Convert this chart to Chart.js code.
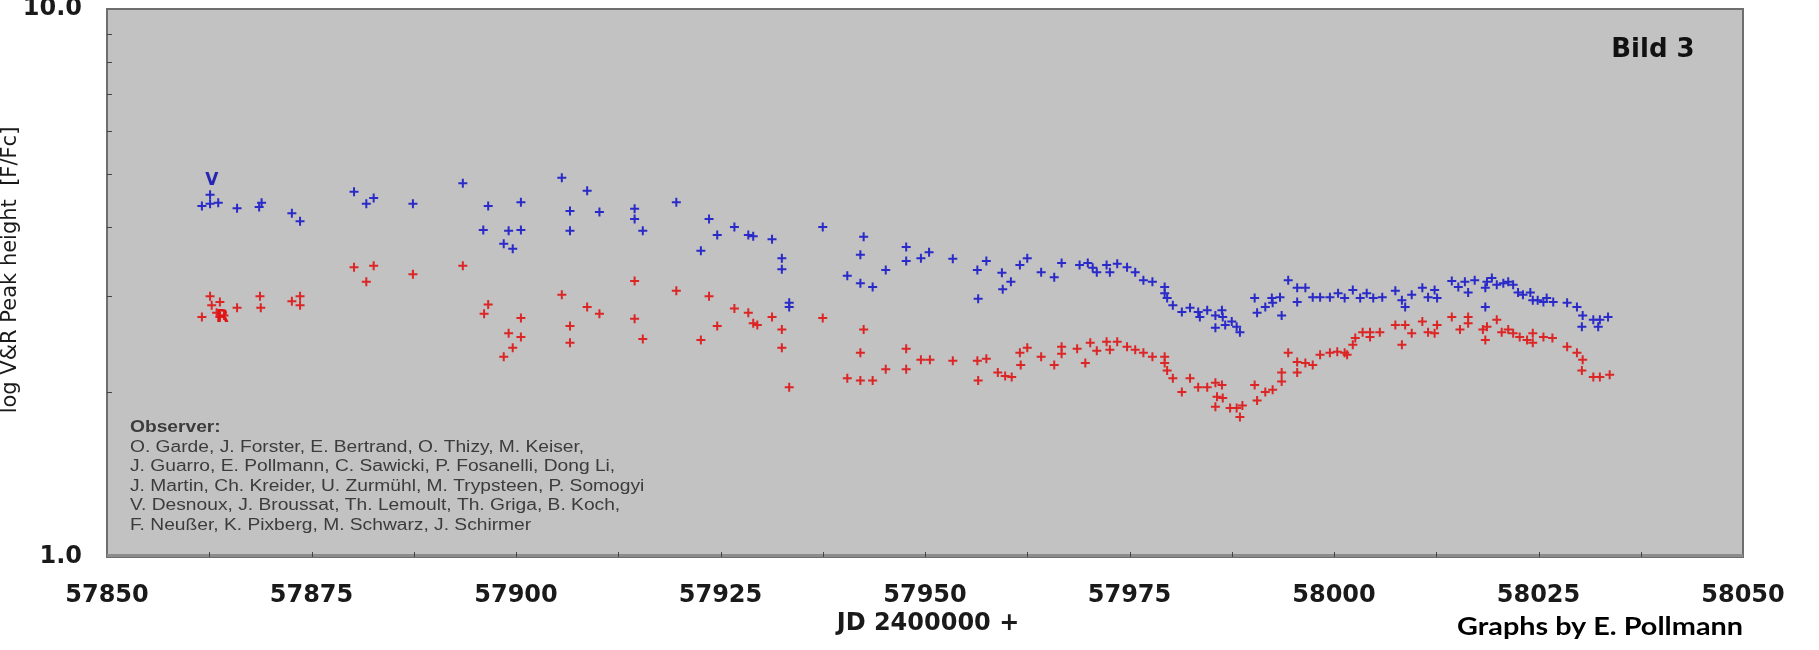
<!DOCTYPE html>
<html>
<head>
<meta charset="utf-8">
<title>Bild 3</title>
<script src="https://cdn.jsdelivr.net/npm/chart.js@4.4.1/dist/chart.umd.min.js"></script>
<style>
  html, body { margin: 0; padding: 0; background: #fff; }
  #wrap { width: 1819px; height: 650px; position: relative; }
</style>
</head>
<body>
<div id="wrap"><canvas id="chart" width="1819" height="650"></canvas></div>
<script>
// V peak height (blue)
const blueJD = [
  57861.6, 57862.6, 57862.6, 57863.6, 57865.9, 57868.6, 57868.9, 57872.6, 57873.6, 57880.2,
  57881.7, 57882.6, 57887.4, 57893.5, 57896.6, 57900.6, 57896.0, 57899.1, 57900.6, 57898.5,
  57899.6, 57905.6, 57906.6, 57906.6, 57908.7, 57910.2, 57914.5, 57914.5, 57915.5, 57919.6,
  57923.6, 57924.6, 57922.6, 57926.7, 57928.4, 57929.0, 57931.3, 57932.5, 57932.5, 57933.4,
  57933.4, 57937.5, 57942.5, 57942.1, 57940.5, 57942.1, 57943.6, 57947.7, 57947.7, 57949.5,
  57950.5, 57945.2, 57953.4, 57957.5, 57956.4, 57959.4, 57960.5, 57959.5, 57956.5, 57961.6,
  57962.5, 57964.2, 57965.8, 57966.7, 57968.9, 57969.9, 57970.5, 57971.0, 57972.2, 57972.6,
  57973.5, 57974.7, 57975.7, 57976.7, 57977.8, 57979.3, 57979.3, 57979.6, 57980.3, 57981.4,
  57982.4, 57983.4, 57983.6, 57984.5, 57985.5, 57986.3, 57986.4, 57985.5, 57986.7, 57987.5,
  57988.1, 57988.5, 57990.3, 57990.6, 57991.6, 57992.5, 57992.4, 57993.4, 57993.6, 57994.4,
  57995.5, 57995.5, 57996.5, 57997.4, 57998.3, 57999.5, 58000.5, 58001.3, 58002.3, 58003.2,
  58004.0, 58004.8, 58005.9, 58007.5, 58008.3, 58008.7, 58009.5, 58010.8, 58011.5, 58012.3,
  58012.6, 58014.4, 58015.2, 58016.0, 58016.4, 58017.2, 58018.5, 58018.7, 58019.3, 58019.9,
  58020.7, 58021.3, 58021.9, 58022.5, 58023.1, 58024.0, 58024.3, 58024.9, 58025.6, 58026.0,
  58026.8, 58018.5, 58028.5, 58029.7, 58030.4, 58030.3, 58031.7, 58032.3, 58032.5, 58033.5
];
const blueVal = [
  4.37, 4.58, 4.41, 4.43, 4.33, 4.35, 4.43, 4.24, 4.10, 4.64,
  4.41, 4.52, 4.41, 4.81, 4.37, 4.44, 3.95, 3.94, 3.95, 3.73,
  3.65, 4.92, 4.28, 3.94, 4.66, 4.26, 4.32, 4.14, 3.94, 4.44,
  4.14, 3.87, 3.62, 4.00, 3.87, 3.85, 3.80, 3.51, 3.35, 2.91,
  2.86, 4.00, 3.84, 3.56, 3.26, 3.16, 3.11, 3.68, 3.47, 3.51,
  3.60, 3.34, 3.50, 3.47, 3.34, 3.30, 3.18, 3.08, 2.96, 3.41,
  3.51, 3.31, 3.24, 3.44, 3.41, 3.44, 3.37, 3.31, 3.41, 3.31,
  3.43, 3.38, 3.31, 3.20, 3.18, 3.11, 3.03, 2.97, 2.88, 2.80,
  2.85, 2.80, 2.74, 2.82, 2.76, 2.82, 2.74, 2.62, 2.65, 2.69,
  2.63, 2.57, 2.97, 2.79, 2.86, 2.91, 2.97, 2.98, 2.76, 3.20,
  3.10, 2.92, 3.10, 2.98, 2.98, 2.98, 3.03, 2.97, 3.07, 2.97,
  3.03, 2.97, 2.98, 3.06, 2.94, 2.86, 3.01, 3.10, 2.98, 3.07,
  2.97, 3.19, 3.11, 3.18, 3.04, 3.20, 3.10, 3.18, 3.23, 3.14,
  3.16, 3.18, 3.14, 3.04, 3.01, 3.04, 2.94, 2.94, 2.92, 2.97,
  2.92, 2.86, 2.91, 2.86, 2.76, 2.63, 2.71, 2.63, 2.71, 2.74
];

// R peak height (red)
const redJD = [
  57862.6, 57863.8, 57861.6, 57862.8, 57863.4, 57864.3, 57863.8, 57865.9, 57868.7, 57868.8,
  57872.6, 57873.6, 57873.6, 57880.2, 57882.6, 57881.7, 57887.4, 57893.5, 57896.6, 57896.1,
  57900.6, 57899.1, 57900.6, 57899.6, 57898.5, 57905.6, 57908.7, 57906.6, 57906.6, 57910.2,
  57914.5, 57914.5, 57915.5, 57919.6, 57923.6, 57924.6, 57922.6, 57926.7, 57928.4, 57929.0,
  57929.5, 57931.3, 57932.5, 57932.5, 57933.4, 57937.5, 57942.5, 57942.1, 57940.5, 57942.1,
  57943.6, 57947.7, 57947.7, 57945.2, 57949.5, 57950.6, 57953.4, 57956.4, 57957.5, 57956.5,
  57958.9, 57959.8, 57960.6, 57961.6, 57962.5, 57961.7, 57964.2, 57965.8, 57966.7, 57966.7,
  57968.6, 57969.6, 57970.2, 57971.0, 57972.2, 57972.6, 57973.5, 57974.7, 57975.7, 57976.7,
  57977.8, 57979.3, 57979.3, 57979.6, 57980.3, 57981.4, 57982.4, 57983.4, 57984.5, 57985.5,
  57986.3, 57985.7, 57986.4, 57985.5, 57987.3, 57988.1, 57988.5, 57988.8, 57990.3, 57990.6,
  57991.6, 57992.5, 57993.6, 57993.6, 57994.4, 57995.5, 57995.5, 57996.5, 57997.4, 57998.3,
  57999.5, 58000.4, 58001.3, 58001.6, 58002.3, 58002.6, 58003.5, 58004.4, 58005.6, 58004.4,
  58007.5, 58008.3, 58008.7, 58009.5, 58010.8, 58011.5, 58012.6, 58012.3, 58014.4, 58015.4,
  58016.4, 58016.4, 58018.2, 58018.5, 58018.7, 58019.9, 58020.5, 58021.3, 58021.9, 58022.7,
  58023.6, 58024.3, 58024.3, 58025.6, 58026.7, 58028.5, 58029.7, 58030.4, 58030.3, 58031.7,
  58032.5, 58033.7
];
const redVal = [
  2.99, 2.92, 2.74, 2.88, 2.79, 2.76, 2.74, 2.85, 2.99, 2.85,
  2.93, 2.99, 2.88, 3.38, 3.40, 3.18, 3.28, 3.40, 2.89, 2.78,
  2.73, 2.56, 2.52, 2.41, 2.32, 3.01, 2.86, 2.64, 2.46, 2.78,
  3.19, 2.72, 2.50, 3.06, 2.99, 2.64, 2.49, 2.84, 2.79, 2.67,
  2.65, 2.74, 2.60, 2.41, 2.04, 2.73, 2.60, 2.36, 2.12, 2.10,
  2.10, 2.40, 2.20, 2.20, 2.29, 2.29, 2.28, 2.28, 2.30, 2.10,
  2.17, 2.14, 2.13, 2.36, 2.41, 2.24, 2.32, 2.24, 2.42, 2.35,
  2.40, 2.26, 2.46, 2.38, 2.47, 2.39, 2.47, 2.42, 2.39, 2.36,
  2.32, 2.32, 2.26, 2.19, 2.12, 2.00, 2.12, 2.04, 2.04, 2.08,
  2.06, 1.96, 1.95, 1.88, 1.87, 1.87, 1.80, 1.89, 2.06, 1.93,
  2.00, 2.02, 2.09, 2.17, 2.36, 2.27, 2.17, 2.26, 2.24, 2.34,
  2.36, 2.37, 2.36, 2.34, 2.44, 2.51, 2.57, 2.57, 2.57, 2.52,
  2.65, 2.44, 2.65, 2.56, 2.69, 2.57, 2.65, 2.56, 2.74, 2.60,
  2.74, 2.67, 2.60, 2.49, 2.63, 2.71, 2.57, 2.60, 2.56, 2.52,
  2.49, 2.46, 2.56, 2.52, 2.51, 2.42, 2.36, 2.29, 2.19, 2.13,
  2.13, 2.15
];

const xTickValues = [57850, 57875, 57900, 57925, 57950, 57975, 58000, 58025, 58050];
const xMinorTicks = [57862.5, 57875, 57887.5, 57900, 57912.5, 57925, 57937.5, 57950, 57962.5,
                     57975, 57987.5, 58000, 58012.5, 58025, 58037.5];
const yTickValues = [1, 10];
const yMinorTicks = [2, 3, 4, 5, 6, 7, 8, 9];

const observerTitle = 'Observer:';
const observerLines = [
  'O. Garde, J. Forster, E. Bertrand, O. Thizy, M. Keiser,',
  'J. Guarro, E. Pollmann, C. Sawicki, P. Fosanelli, Dong Li,',
  'J. Martin, Ch. Kreider, U. Zurmühl, M. Trypsteen, P. Somogyi',
  'V. Desnoux, J. Broussat, Th. Lemoult, Th. Griga, B. Koch,',
  'F. Neußer, K. Pixberg, M. Schwarz, J. Schirmer'
];

function pts(xs, ys){ return xs.map((x, i) => ({ x: x, y: ys[i] })); }

const deco = {
  id: 'deco',
  beforeDatasetsDraw(chart){
    const { ctx, chartArea: a } = chart;
    ctx.save();
    ctx.fillStyle = '#c2c2c2';
    ctx.fillRect(a.left, a.top, a.right - a.left, a.bottom - a.top);

    // observer box text
    ctx.fillStyle = '#3c3c3c';
    ctx.textBaseline = 'middle';
    ctx.textAlign = 'left';
    ctx.font = 'bold 16px "Liberation Sans"';
    ctx.translate(130, 0);
    ctx.scale(1.2, 1);
    ctx.fillText(observerTitle, 0, 428);
    ctx.font = '16px "Liberation Sans"';
    observerLines.forEach((t, i) => ctx.fillText(t, 0, 447.5 + i * 19.5));
    ctx.restore();
  },
  afterDraw(chart){
    const { ctx, chartArea: a, scales } = chart;
    const xs = scales.x, ys = scales.y;
    ctx.save();
    // frame
    ctx.strokeStyle = '#6e6e6e';
    ctx.lineWidth = 2;
    ctx.strokeRect(a.left, a.top, a.right - a.left, a.bottom - a.top);
    ctx.fillStyle = '#8c8c8c';
    ctx.fillRect(a.left, a.bottom - 3, a.right - a.left, 3);

    // small inward ticks
    ctx.strokeStyle = '#444';
    ctx.lineWidth = 1;
    ctx.beginPath();
    xMinorTicks.forEach(v => {
      const px = Math.round(xs.getPixelForValue(v)) + 0.5;
      ctx.moveTo(px, a.bottom); ctx.lineTo(px, a.bottom - 5);
    });
    yMinorTicks.forEach(v => {
      const py = Math.round(ys.getPixelForValue(v)) + 0.5;
      ctx.moveTo(a.left, py); ctx.lineTo(a.left + 5, py);
    });
    ctx.stroke();

    // series labels
    ctx.font = 'bold 17px "DejaVu Sans"';
    ctx.textAlign = 'center';
    ctx.textBaseline = 'middle';
    ctx.fillStyle = '#2626b4';
    ctx.fillText('V', xs.getPixelForValue(57862.8), ys.getPixelForValue(4.87));
    ctx.fillStyle = '#e01414';
    ctx.fillText('R', xs.getPixelForValue(57864.1), ys.getPixelForValue(2.74));

    // Bild 3
    ctx.fillStyle = '#111';
    ctx.font = 'bold 26px "DejaVu Sans"';
    ctx.fillText('Bild 3', 1653, 50);

    // axis titles
    ctx.font = 'bold 24px "DejaVu Sans"';
    ctx.fillStyle = '#1a1a1a';
    ctx.fillText('JD 2400000 +', (a.left + a.right) / 2 + 3, 624);

    ctx.save();
    ctx.translate(16, 270);
    ctx.rotate(-Math.PI / 2);
    ctx.textBaseline = 'alphabetic';
    ctx.font = '21px "DejaVu Sans"';
    ctx.fillStyle = '#1a1a1a';
    ctx.fillText('log V&R Peak height  [F/Fc]', 0, 0);
    ctx.restore();

    // credit, stretched to the width it takes in the original
    const credit = 'Graphs by E. Pollmann';
    ctx.textAlign = 'left';
    ctx.textBaseline = 'alphabetic';
    ctx.fillStyle = '#000';
    ctx.font = 'bold 25px Lato';
    const w = ctx.measureText(credit).width;
    ctx.translate(a.right - 286, 635);
    ctx.scale(286 / w, 1);
    ctx.fillText(credit, 0, 0);
    ctx.restore();
  }
};

new Chart(document.getElementById('chart'), {
  type: 'scatter',
  data: {
    datasets: [
      { label: 'V', data: pts(blueJD, blueVal), pointStyle: 'cross', pointRadius: 4.5,
        borderColor: '#2a2ac8', borderWidth: 2, backgroundColor: '#2a2ac8' },
      { label: 'R', data: pts(redJD, redVal), pointStyle: 'cross', pointRadius: 4.5,
        borderColor: '#dc2626', borderWidth: 2, backgroundColor: '#dc2626' }
    ]
  },
  options: {
    responsive: false,
    animation: false,
    events: [],
    layout: { autoPadding: false, padding: { left: 0, top: 9, right: 76, bottom: 0 } },
    plugins: { legend: { display: false }, tooltip: { enabled: false } },
    scales: {
      x: {
        type: 'linear', min: 57850, max: 58050,
        afterFit: s => { s.height = 93; s.paddingLeft = 0; s.paddingRight = 0; },
        afterBuildTicks: s => { s.ticks = xTickValues.map(v => ({ value: v })); },
        grid: { display: false, drawTicks: false },
        border: { display: false },
        ticks: {
          padding: 24, color: '#1a1a1a', maxRotation: 0, autoSkip: false,
          font: { family: 'DejaVu Sans', size: 24, weight: 'bold' },
          callback: v => String(v)
        }
      },
      y: {
        type: 'logarithmic', min: 1, max: 10,
        afterFit: s => { s.width = 107; s.paddingTop = 0; s.paddingBottom = 0; },
        afterBuildTicks: s => { s.ticks = yTickValues.map(v => ({ value: v })); },
        grid: { display: false, drawTicks: false },
        border: { display: false },
        ticks: {
          padding: 25, color: '#1a1a1a', autoSkip: false,
          font: { family: 'DejaVu Sans', size: 24, weight: 'bold' },
          callback: v => Number(v).toFixed(1)
        }
      }
    }
  },
  plugins: [deco]
});
</script>
</body>
</html>
